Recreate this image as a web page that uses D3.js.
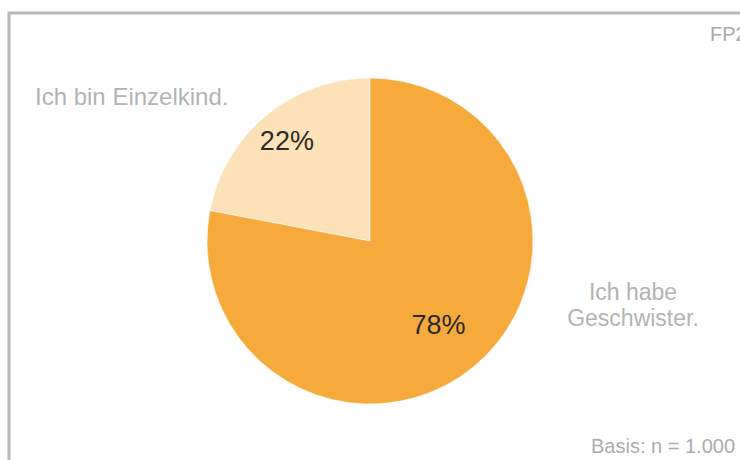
<!DOCTYPE html>
<html>
<head>
<meta charset="utf-8">
<script src="https://cdn.jsdelivr.net/npm/d3@7"></script>
<style>
  html, body { margin: 0; padding: 0; background: #fff; }
  svg { display: block; }
  text { font-family: "Liberation Sans", Arial, sans-serif; }
</style>
</head>
<body>
<svg id="chart" width="740" height="460"></svg>
<script>
// Anteile: Einzelkind vs. Geschwister
const categories = ["Ich bin Einzelkind.", "Ich habe Geschwister."];
const shares = [22, 78];
const valueLabels = ["22%", "78%"];
const sliceColors = ["#fde2b9", "#f6aa3c"];
const chartCode = "FP2";
const baseNote = "Basis: n = 1.000";

const svg = d3.select("#chart");
const W = 740, H = 460;

// Rahmen (oben und links sichtbar, läuft rechts/unten aus dem Bild)
svg.append("rect")
  .attr("x", 9).attr("y", 13)
  .attr("width", W + 20).attr("height", H + 20)
  .attr("fill", "#fff")
  .attr("stroke", "#b9b9b9")
  .attr("stroke-width", 3);

const cx = 370, cy = 241, radius = 163;

const pie = d3.pie()
  .sort(null)
  .startAngle(0)
  .endAngle(-2 * Math.PI)
  .value(d => d);

const arcs = pie(shares);
const arc = d3.arc().innerRadius(0).outerRadius(radius);

const g = svg.append("g").attr("transform", `translate(${cx},${cy})`);

g.selectAll("path.slice")
  .data(arcs)
  .join("path")
  .attr("class", "slice")
  .attr("d", arc)
  .attr("fill", (d, i) => sliceColors[i])
  .attr("stroke", "#fff")
  .attr("stroke-opacity", 0.6)
  .attr("stroke-width", 1);

// Prozentwerte im Segment, radial unterschiedlich weit innen
const labelFactor = [0.8, 0.66];
g.selectAll("text.value")
  .data(arcs)
  .join("text")
  .attr("class", "value")
  .attr("transform", (d, i) => {
    const r = radius * labelFactor[i];
    const c = d3.arc().innerRadius(r).outerRadius(r).centroid(d);
    return `translate(${c[0]},${c[1]})`;
  })
  .attr("text-anchor", "middle")
  .attr("dy", "0.36em")
  .attr("font-size", 27)
  .attr("fill", "#2c2a28")
  .text((d, i) => valueLabels[i]);

// Kategorienbeschriftungen
const labelGrey = "#b3b3b3";
svg.append("text")
  .attr("x", 35).attr("y", 105)
  .attr("font-size", 24)
  .attr("fill", labelGrey)
  .text(categories[0]);

const right = svg.append("text")
  .attr("x", 633).attr("y", 300)
  .attr("text-anchor", "middle")
  .attr("font-size", 23)
  .attr("fill", labelGrey);
right.append("tspan").attr("x", 633).text("Ich habe");
right.append("tspan").attr("x", 633).attr("dy", 26).text("Geschwister.");

// Kennung und Basis
svg.append("text")
  .attr("x", 710).attr("y", 41)
  .attr("font-size", 20)
  .attr("fill", "#a8a8a8")
  .text(chartCode);

svg.append("text")
  .attr("x", 735).attr("y", 453)
  .attr("text-anchor", "end")
  .attr("font-size", 20)
  .attr("fill", "#acacac")
  .text(baseNote);
</script>
</body>
</html>
